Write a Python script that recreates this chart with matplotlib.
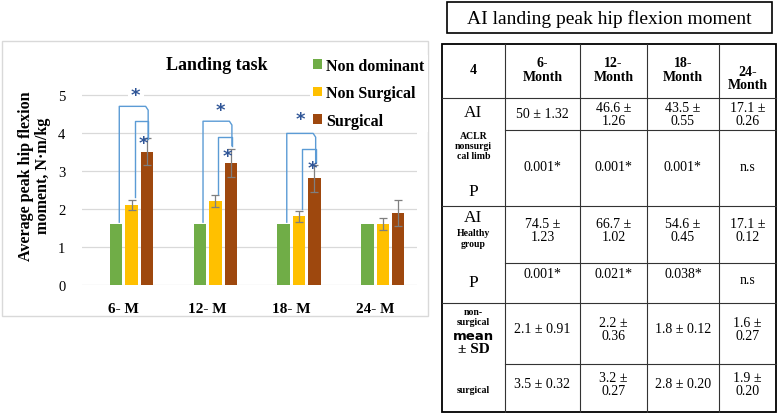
import numpy as np
import matplotlib.pyplot as plt
from matplotlib.patches import Rectangle

# chart data
categories = ["6- M", "12- M", "18- M", "24- M"]
series = ["Non dominant", "Non Surgical", "Surgical"]
non_dominant = [1.6, 1.6, 1.6, 1.6]
non_surgical = [2.1, 2.2, 1.8, 1.6]
surgical = [3.5, 3.2, 2.8, 1.9]
non_surgical_err = [0.14, 0.16, 0.14, 0.15]
surgical_err = [0.35, 0.36, 0.35, 0.34]

# significance brackets for the first three time points
outer_top = [4.69, 4.30, 3.98]
inner_top = [4.30, 3.89, 3.57]
bracket_end = [3.83, 3.66, 3.22]
outer_start = [1.65, 1.65, 1.65]
inner_start = [2.30, 2.39, 2.00]
star_top = [(0.143, 4.99), (0.148, 4.59), (0.112, 4.37)]
star_low = [(0.23, 3.74), (0.24, 3.39), (0.25, 3.08)]

# table contents
table_title = "AI landing peak hip flexion moment"
table_cols = ["4", "6-\nMonth", "12-\nMonth", "18-\nMonth", "24-\nMonth"]
ai_aclr = ["50 ± 1.32", "46.6 ±\n1.26", "43.5 ±\n0.55", "17.1 ±\n0.26"]
p_aclr = ["0.001*", "0.001*", "0.001*", "n.s"]
ai_healthy = ["74.5 ±\n1.23", "66.7 ±\n1.02", "54.6 ±\n0.45", "17.1 ±\n0.12"]
p_healthy = ["0.001*", "0.021*", "0.038*", "n.s"]
nonsurg_sd = ["2.1 ± 0.91", "2.2 ±\n0.36", "1.8 ± 0.12", "1.6 ±\n0.27"]
surg_sd = ["3.5 ± 0.32", "3.2 ±\n0.27", "2.8 ± 0.20", "1.9 ±\n0.20"]

SERIF = "Liberation Serif"
colors = ["#70AD47", "#FFC000", "#9E480E"]
W, H = 778, 414

fig = plt.figure(figsize=(W / 100, H / 100), dpi=100)

# overlay in pixel coordinates for panel frame and table
ov = fig.add_axes([0, 0, 1, 1], zorder=0)
ov.set_xlim(0, W)
ov.set_ylim(H, 0)
ov.axis("off")
ov.add_patch(Rectangle((2, 42), 426, 275, fill=False, ec="#D9D9D9", lw=1))

ax = fig.add_axes([82 / W, 128 / H, 335 / W, 209.5 / H], zorder=1)
ax.patch.set_alpha(0)
x = np.arange(len(categories))
bw = 0.148
ekw = dict(ecolor="#7F7F7F", elinewidth=0.9, capsize=3, capthick=0.9)
b1 = ax.bar(x - 0.092, non_dominant, bw, color=colors[0], zorder=2)
b2 = ax.bar(x + 0.092, non_surgical, bw, color=colors[1], yerr=non_surgical_err,
            error_kw=ekw, zorder=2)
b3 = ax.bar(x + 0.276, surgical, bw, color=colors[2], yerr=surgical_err,
            error_kw=ekw, zorder=2)

ax.set_xlim(-0.5, 3.5)
ax.set_ylim(0, 5.5)
ax.set_yticks(range(6))
ax.yaxis.grid(True, color="#D9D9D9", lw=0.9, zorder=0)
ax.set_axisbelow(True)
for s in ax.spines.values():
    s.set_visible(False)
ax.tick_params(length=0)
ax.tick_params(axis="y", pad=12, labelsize=10.5)
ax.tick_params(axis="x", pad=12)
ax.set_xticks(x)
ax.set_xticklabels(categories, fontsize=11, fontweight="bold", family=SERIF)
for t in ax.get_yticklabels():
    t.set_family(SERIF)

blue = "#5B9BD5"
for i in range(3):
    xg, xy, xr = i - 0.055, i + 0.127, i + 0.29
    ax.plot([xg, xg, xr - 0.03, xr, xr], [outer_start[i], outer_top[i], outer_top[i],
            outer_top[i] - 0.1, bracket_end[i]], color=blue, lw=1, zorder=3)
    ax.plot([xy, xy, xr, xr], [inner_start[i], inner_top[i], inner_top[i], bracket_end[i]],
            color=blue, lw=1, zorder=3)
    # top star sits in a small white box that breaks the gridline behind it
    tx, ty = star_top[i]
    ax.text(i + tx, ty, "*", ha="center", va="center", fontsize=13, fontweight="bold",
            color="#2F5597", zorder=1.5, bbox=dict(fc="white", ec="none", pad=2.5))
    lx, ly = star_low[i]
    ax.text(i + lx, ly, "*", ha="center", va="center", fontsize=13, fontweight="bold",
            color="#2F5597", zorder=4)

leg = ax.legend([b1, b2, b3], series, loc="upper left", bbox_to_anchor=(0.681, 1.10),
                prop=dict(family=SERIF, weight="bold", size=11.5), handlelength=0.55,
                handleheight=0.55, handletextpad=0.25, labelspacing=0.72, borderpad=0.2,
                borderaxespad=0, frameon=True, facecolor="white", edgecolor="none",
                framealpha=1, fancybox=False)
leg.set_zorder(5)

fig.text(217 / W, 1 - 65 / H, "Landing task", ha="center", va="center",
         fontsize=13, fontweight="bold", family=SERIF)
fig.text(34.5 / W, 1 - 176 / H, "Average peak hip flexion\nmoment, N·m/kg", rotation=90,
         ha="center", va="center", fontsize=11.6, fontweight="bold", family=SERIF,
         linespacing=1.08)

# ---- table on the right ----
ov.add_patch(Rectangle((447, 3), 325, 31, fill=False, ec="black", lw=1.2))
ov.text(609.5, 19, table_title, ha="center", va="center", fontsize=14, family=SERIF)

cx = [442, 505, 580, 647, 719, 776]
top, bot = 44.5, 413
for xx in cx[1:-1]:
    ov.plot([xx, xx], [top, bot], color="#333333", lw=0.8)
for yy in [99, 207, 304]:
    ov.plot([cx[0], cx[-1]], [yy, yy], color="#333333", lw=0.8)
for yy in [131, 264, 365]:
    ov.plot([cx[1], cx[-1]], [yy, yy], color="#333333", lw=0.8)
ov.add_patch(Rectangle((cx[0], top), cx[-1] - cx[0], bot - top, fill=False, ec="black", lw=1.3))

mid = [(cx[k] + cx[k + 1]) / 2 for k in range(5)]
hdr_y = [70.5, 70.5, 70.5, 70.5, 79]
for k, lab in enumerate(table_cols):
    ov.text(mid[k], hdr_y[k], lab, ha="center", va="center", fontsize=10,
            fontweight="bold", family=SERIF, linespacing=1.05)

rows = [(ai_aclr, 115), (p_aclr, 168), (ai_healthy, 231.5), (p_healthy, 275),
        (nonsurg_sd, 330), (surg_sd, 385)]
for vals, yy in rows:
    for k, v in enumerate(vals):
        y2 = yy
        if v == "n.s" and yy == 275:
            y2 = 281
        ov.text(mid[k + 1], y2, v, ha="center", va="center", fontsize=10,
                family=SERIF, linespacing=1.0)

c0 = mid[0]
ov.text(c0, 113, "AI", ha="center", va="center", fontsize=12.5, family=SERIF)
ov.text(c0, 146.5, "ACLR\nnonsurgi\ncal limb", ha="center", va="center", fontsize=7,
        fontweight="bold", family=SERIF, linespacing=1.2)
ov.text(c0, 192, "P", ha="center", va="center", fontsize=12.5, family=SERIF)
ov.text(c0, 218, "AI", ha="center", va="center", fontsize=12.5, family=SERIF)
ov.text(c0, 239, "Healthy\ngroup", ha="center", va="center", fontsize=7,
        fontweight="bold", family=SERIF, linespacing=1.2)
ov.text(c0, 283, "P", ha="center", va="center", fontsize=12.5, family=SERIF)
ov.text(c0, 317.5, "non-\nsurgical", ha="center", va="center", fontsize=7,
        fontweight="bold", family=SERIF, linespacing=1.2)
ov.text(c0, 336.5, "mean", ha="center", va="center", fontsize=9.5,
        fontweight="bold", family="DejaVu Sans")
ov.text(c0, 350, "± SD", ha="center", va="center", fontsize=11,
        fontweight="bold", family=SERIF)
ov.text(c0, 391, "surgical", ha="center", va="center", fontsize=7,
        fontweight="bold", family=SERIF)

fig.savefig("out.png", dpi=100)
